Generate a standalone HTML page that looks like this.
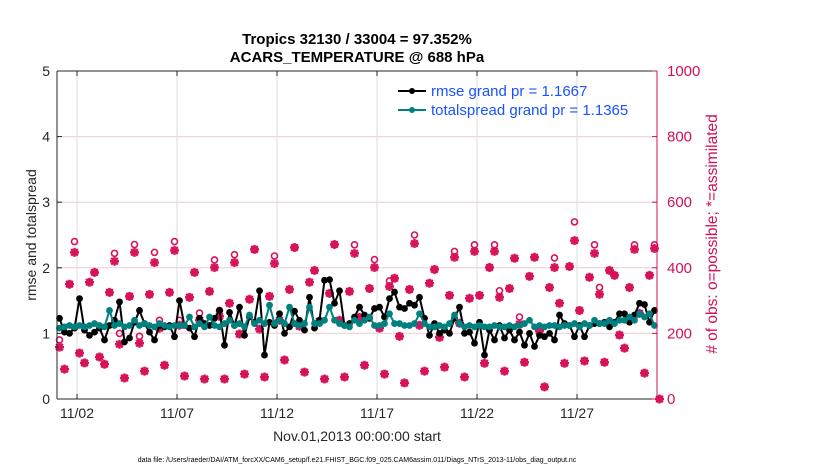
<!DOCTYPE html>
<html><head><meta charset="utf-8"><style>
body{margin:0;background:#fff;}
svg{display:block;font-family:"Liberation Sans",sans-serif;}
</style></head><body>
<svg id="chart" width="830" height="470" viewBox="0 0 830 470">
<g id="grid"></g>
<g id="marks"></g>
<g id="axes"></g>
<text x="357" y="44" font-size="15" font-weight="bold" text-anchor="middle">Tropics 32130 / 33004 = 97.352%</text>
<text x="357" y="62" font-size="15" font-weight="bold" text-anchor="middle">ACARS_TEMPERATURE @ 688 hPa</text>
<text transform="translate(36,235) rotate(-90)" font-size="14" text-anchor="middle" fill="#262626">rmse and totalspread</text>
<text transform="translate(717,234) rotate(-90)" font-size="15.5" text-anchor="middle" fill="#d0105a"># of obs: o=possible; *=assimilated</text>
<text x="357" y="441" font-size="14" text-anchor="middle" fill="#262626">Nov.01,2013 00:00:00 start</text>
<text x="357" y="462" font-size="7" text-anchor="middle" fill="#000">data file: /Users/raeder/DAI/ATM_forcXX/CAM6_setup/f.e21.FHIST_BGC.f09_025.CAM6assim.011/Diags_NTrS_2013-11/obs_diag_output.nc</text>
<g>
 <g>
  <line x1="398" y1="91" x2="426" y2="91" stroke="#000" stroke-width="2"/><circle cx="412" cy="91" r="3" fill="#000"/>
  <text x="431" y="96" font-size="15" fill="#1a53ff">rmse grand pr = 1.1667</text>
 </g>
 <g>
  <line x1="398" y1="110" x2="426" y2="110" stroke="#00807f" stroke-width="2"/><circle cx="412" cy="110" r="3" fill="#00807f"/>
  <text x="431" y="115" font-size="15" fill="#1a53ff">totalspread grand pr = 1.1365</text>
 </g>
</g>
</svg>
<script>
const xTickLabels = ["11/02","11/07","11/12","11/17","11/22","11/27"];
const xTickDays = [1,6,11,16,21,26];
const yTicksLeft = [0,1,2,3,4,5];
const yTicksRight = [0,200,400,600,800,1000];
const rmse = [1.23,1.02,1.0,1.08,1.53,1.05,0.97,1.02,1.08,0.9,
1.12,1.2,1.48,0.87,0.93,1.17,1.35,1.15,1.02,0.9,
1.12,1.1,1.12,0.95,1.5,1.12,1.08,0.95,1.23,1.15,
1.12,1.23,1.35,0.82,1.32,1.12,1.4,0.97,1.25,1.17,
1.65,0.67,1.17,1.12,1.3,1.0,1.1,1.34,1.2,1.05,
1.55,1.08,1.2,1.81,1.82,1.46,1.65,1.12,1.15,1.25,
1.4,1.28,1.23,1.38,1.4,1.25,1.53,1.63,1.4,1.38,
1.46,1.43,1.55,1.23,0.97,1.15,1.0,1.05,1.0,1.23,
1.4,1.0,1.02,0.85,1.17,0.67,1.05,0.9,1.12,0.93,
1.05,0.9,1.02,0.82,1.0,0.8,0.97,0.95,1.0,0.9,
1.28,1.15,1.12,0.95,1.12,0.95,1.12,1.15,1.15,1.17,
1.1,1.17,1.3,1.3,1.17,1.28,1.46,1.44,1.17,1.35];
const spread = [1.08,1.1,1.12,1.1,1.12,1.1,1.12,1.15,1.12,1.1,
1.35,1.12,1.15,1.1,1.12,1.2,1.12,1.15,1.12,1.1,
1.15,1.12,1.1,1.12,1.12,1.12,1.25,1.1,1.15,1.1,
1.25,1.12,1.1,1.15,1.2,1.12,1.15,1.1,1.28,1.15,
1.2,1.15,1.43,1.15,1.2,1.15,1.4,1.15,1.12,1.15,
1.4,1.15,1.15,1.2,1.4,1.2,1.15,1.12,1.1,1.2,
1.15,1.2,1.25,1.12,1.12,1.15,1.3,1.15,1.15,1.12,
1.12,1.15,1.3,1.15,1.1,1.1,1.12,1.1,1.15,1.28,
1.15,1.1,1.12,1.1,1.12,1.1,1.1,1.12,1.1,1.1,
1.12,1.1,1.12,1.15,1.2,1.1,1.12,1.1,1.12,1.12,
1.1,1.12,1.12,1.15,1.1,1.15,1.12,1.2,1.15,1.15,
1.2,1.15,1.2,1.2,1.25,1.2,1.3,1.25,1.3,1.12];
const assimilated = [158,91,350,447,140,110,356,386,128,106,
325,420,167,64,313,447,170,85,319,416,
216,103,325,453,225,70,310,386,240,61,
328,401,252,61,292,416,198,76,304,456,
213,67,313,413,240,119,334,462,222,82,
356,392,237,61,322,471,240,67,328,444,
249,103,337,401,216,76,343,368,191,49,
334,474,225,85,353,395,188,97,316,432,
231,67,307,450,316,109,401,450,310,85,
337,429,228,112,374,432,207,37,340,401,
292,109,404,483,270,116,371,444,319,112,
392,377,195,155,340,456,261,79,377,459,0];
const possible = [180,91,350,480,140,110,356,386,128,106,
325,444,200,64,313,471,191,85,319,447,
240,103,325,480,240,70,310,386,262,61,
328,424,270,61,292,440,198,76,304,456,
230,67,313,436,240,119,334,462,222,82,
356,392,237,61,322,471,240,67,328,470,
249,103,337,425,216,76,360,368,191,49,
334,500,225,85,353,395,188,97,316,450,
231,67,307,470,316,109,401,470,330,85,
337,429,250,112,374,432,207,37,340,430,
292,109,404,540,270,116,371,470,340,112,
392,377,195,155,340,470,261,79,377,470,0];

const NS='http://www.w3.org/2000/svg';
const L=57,R=657,T=71,B=399,DAYS=30;
const xDay=d=>L+(R-L)*d/DAYS;
const xIdx=i=>xDay((i+0.5)/4);
const yL=v=>B-(B-T)*v/5;
const yR=v=>B-(B-T)*v/1000;
function mk(tag,attrs,parent){const e=document.createElementNS(NS,tag);for(const k in attrs)e.setAttribute(k,attrs[k]);parent.appendChild(e);return e;}
const grid=document.getElementById('grid'),marks=document.getElementById('marks'),axes=document.getElementById('axes');

yTicksLeft.forEach(v=>{if(v>0&&v<5)mk('line',{x1:L,x2:R,y1:yL(v),y2:yL(v),stroke:'#e0e0e0','stroke-width':1},grid);});
yTicksRight.forEach(v=>{if(v>0&&v<1000)mk('line',{x1:L,x2:R,y1:yR(v),y2:yR(v),stroke:'#f3d3de','stroke-width':1},grid);});
xTickDays.forEach(d=>mk('line',{x1:xDay(d),x2:xDay(d),y1:T,y2:B,stroke:'#dcdcdc','stroke-width':1},grid));

possible.forEach((v,i)=>{
 const c=mk('circle',{cx:xIdx(i),cy:yR(v),r:3,fill:'none',stroke:'#d6125a','stroke-width':1.6},marks);
 
 
});
assimilated.forEach((v,i)=>{
 const x=xIdx(i),y=yR(v),s=4.5;
 const g=mk('path',{d:`M${x-s},${y}H${x+s}M${x},${y-s}V${y+s}M${x-3.3},${y-3.3}L${x+3.3},${y+3.3}M${x-3.3},${y+3.3}L${x+3.3},${y-3.3}`,stroke:'#d6125a','stroke-width':2.4,fill:'none'},marks);
 
 
});
function series(arr,color,name){
 const p=mk('polyline',{points:arr.map((v,i)=>xIdx(i)+','+yL(v)).join(' '),fill:'none',stroke:color,'stroke-width':2},marks);
 
 
 arr.forEach((v,i)=>{
  const c=mk('circle',{cx:xIdx(i),cy:yL(v),r:3.4,fill:color},marks);
  
  
 });
}
series(rmse,'#000','rmse');
series(spread,'#00807f','totalspread');

mk('line',{x1:L,x2:R,y1:B,y2:B,stroke:'#262626','stroke-width':1},axes);
mk('line',{x1:L,x2:R,y1:T,y2:T,stroke:'#262626','stroke-width':1},axes);
mk('line',{x1:L,x2:L,y1:T,y2:B,stroke:'#262626','stroke-width':1},axes);
mk('line',{x1:R,x2:R,y1:T,y2:B,stroke:'#d0105a','stroke-width':1},axes);
yTicksLeft.forEach(v=>{
 mk('line',{x1:L,x2:L+5,y1:yL(v),y2:yL(v),stroke:'#262626'},axes);
 const t=mk('text',{x:L-7,y:yL(v)+5,'font-size':14,'text-anchor':'end',fill:'#262626'},axes);t.textContent=v;
 
 
});
yTicksRight.forEach(v=>{
 mk('line',{x1:R-5,x2:R,y1:yR(v),y2:yR(v),stroke:'#d0105a'},axes);
 const t=mk('text',{x:R+10,y:yR(v)+5,'font-size':15,fill:'#d0105a'},axes);t.textContent=v;
 
 
});
xTickDays.forEach((d,k)=>{
 mk('line',{x1:xDay(d),x2:xDay(d),y1:B-5,y2:B,stroke:'#262626'},axes);
 mk('line',{x1:xDay(d),x2:xDay(d),y1:T,y2:T+5,stroke:'#262626'},axes);
 const t=mk('text',{x:xDay(d),y:B+19,'font-size':14,'text-anchor':'middle',fill:'#262626'},axes);t.textContent=xTickLabels[k];
 
 
});
</script>
</body></html>
